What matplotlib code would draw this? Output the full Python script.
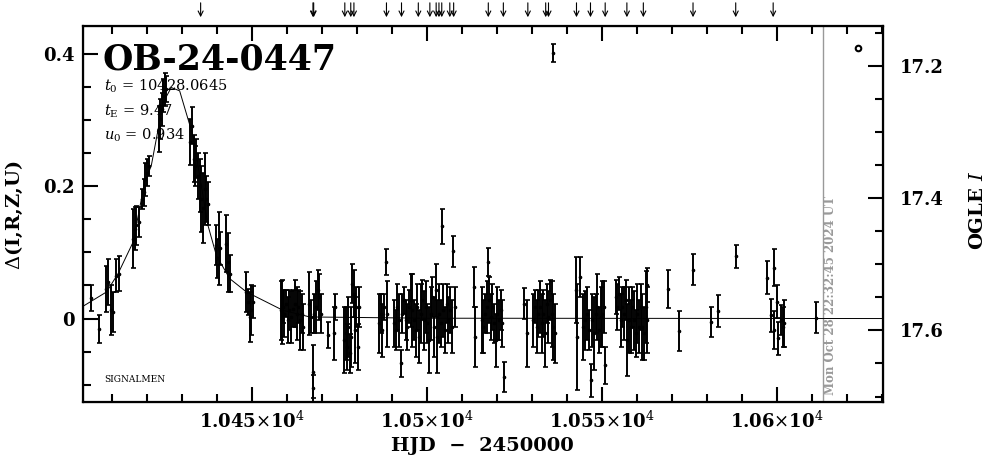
import numpy as np
import matplotlib
matplotlib.use('Agg')
import matplotlib.pyplot as plt
from matplotlib.ticker import MultipleLocator, FixedLocator

plt.rcParams['font.family'] = 'DejaVu Serif'
plt.rcParams['mathtext.fontset'] = 'dejavuserif'

# photometry: HJD-2450000, delta mag, error
hjd = [10404.2, 10406.4, 10408.3, 10408.9, 10409.9, 10410.4, 10411.3, 10412.1,
       10416.1, 10416.6, 10417.0, 10417.8, 10418.7, 10419.2, 10419.6, 10420.1, 10420.6,
       10423.5, 10423.9, 10424.3, 10424.7, 10425.1, 10425.6,
       10432.5, 10433.0, 10433.4, 10433.8, 10434.2, 10434.7, 10435.1, 10435.6, 10436.1,
       10436.6, 10437.0, 10437.5, 10439.7, 10440.1, 10440.6, 10441.0, 10442.7, 10443.2,
       10443.7, 10448.5, 10448.9, 10449.4, 10449.9, 10450.4, 10458.7,
       10458.4, 10458.9, 10459.3, 10459.8, 10460.3, 10460.7, 10461.2, 10461.7, 10462.4,
       10462.9, 10463.3, 10463.8, 10464.3, 10464.7,
       10466.5, 10466.9, 10467.4, 10467.5, 10467.9, 10468.4, 10468.8, 10469.3, 10469.7,
       10471.7, 10473.6, 10473.7,
       10476.5, 10476.9, 10477.2, 10477.6, 10478.0, 10478.4, 10478.7, 10479.1, 10479.5,
       10479.9, 10480.5, 10480.7,
       10486.5, 10486.9, 10487.3, 10487.8, 10488.5, 10488.7,
       10490.7, 10491.1, 10491.6, 10492.1, 10492.7, 10493.0, 10493.5, 10494.0, 10494.5,
       10494.9, 10495.4, 10495.9, 10496.4, 10496.9, 10497.3, 10497.8, 10498.3, 10498.7,
       10499.2, 10499.7, 10500.2, 10500.7, 10501.1, 10501.6, 10502.1, 10502.6, 10503.0,
       10503.5, 10504.0, 10504.3, 10504.7, 10505.2, 10505.7, 10506.2, 10506.7, 10507.1,
       10507.6, 10508.1,
       10513.6, 10513.7, 10515.7, 10516.2, 10516.7, 10517.1, 10517.6, 10517.8, 10518.3,
       10518.7, 10519.2, 10519.7, 10520.2, 10520.7, 10521.1, 10521.6, 10522.0,
       10527.9, 10528.6, 10530.5, 10530.9, 10531.4, 10531.9, 10532.4, 10532.9, 10533.3,
       10533.8, 10534.3, 10534.7, 10535.2, 10535.7, 10536.2, 10536.7, 10536.1,
       10542.7, 10543.0, 10543.8, 10544.7, 10545.2, 10545.9, 10546.4, 10546.9, 10547.3,
       10547.8, 10548.3, 10548.7, 10549.2, 10549.7, 10550.2, 10550.7, 10551.0,
       10554.0, 10554.5, 10554.9, 10555.4, 10555.9, 10556.4, 10556.9, 10557.3, 10557.8,
       10558.3, 10558.7, 10559.2, 10559.7, 10560.2, 10560.7, 10561.1, 10561.6, 10562.1,
       10562.6, 10562.9,
       10563.0, 10569.0, 10572.1, 10576.0, 10581.1, 10583.2, 10588.3, 10597.1, 10598.3,
       10599.1, 10599.3, 10600.2, 10600.3, 10601.3, 10601.7, 10602.2, 10611.2]
dmag = [0.031, -0.016, 0.045, 0.055, 0.013, 0.010, 0.065, 0.068,
        0.121, 0.136, 0.141, 0.146, 0.181, 0.191, 0.211, 0.221, 0.231,
        0.287, 0.302, 0.317, 0.337, 0.347, 0.347,
        0.267, 0.292, 0.242, 0.231, 0.242, 0.216, 0.201, 0.181, 0.168,
        0.196, 0.181, 0.174, 0.111, 0.091, 0.106, 0.106, 0.113, 0.085,
        0.068, 0.040, 0.025, 0.002, 0.013, 0.025, 0.010,
        0.0125, 0.0175, 0.0075, 0.0226, -0.0026, 0.0125, 0.0024, 0.015, 0.0226,
        0.0075, 0.0175, -0.0026, 0.0075, -0.0127,
        0.0226, 0.0024, -0.0806, -0.1057, 0.0075, 0.0175, 0.0427, 0.0326, 0.0075,
        -0.0252, -0.0226, 0.0175,
        -0.0327, -0.0226, -0.0428, -0.0127, -0.0528, -0.0277, 0.0528, 0.0377, -0.0176,
        0.0175, -0.0428, 0.0175,
        -0.0075, 0.0075, -0.0176, 0.0175, 0.0854, 0.0075,
        -0.0075, -0.0176, 0.0175, -0.0026, -0.0679, 0.0075, 0.0276, -0.0026, -0.0127,
        0.0175, 0.0276, 0.0125, -0.0026, -0.0176, 0.0175, -0.0277, 0.0075, 0.0276,
        -0.0026, 0.0175, -0.0075, -0.0327, 0.0075, 0.0326, -0.0127, 0.0427, -0.0277,
        0.0075, -0.0075, 0.1393, 0.0125, -0.0176, 0.0226, -0.0026, 0.0125, -0.0127,
        0.1016, 0.0175,
        0.0477, -0.0277, -0.0026, -0.0127, 0.0075, 0.0175, 0.0854, 0.0276, 0.0024,
        0.0175, -0.0075, -0.0327, 0.0075, -0.0026, 0.0125, -0.0075, -0.0881,
        0.0226, -0.0226, -0.0026, 0.0175, -0.0127, 0.0075, 0.0175, -0.0075, 0.0075,
        -0.0226, 0.0226, 0.0024, 0.0276, 0.0075, -0.0127, -0.0226, 0.402,
        0.0427, -0.0277, 0.0628, -0.0127, -0.0026, 0.0075, -0.0176, -0.0931, -0.0026,
        -0.0226, 0.0075, 0.0175, -0.0176, 0.0024, 0.0075, 0.0175, -0.0705,
        0.0326, 0.0175, 0.0377, -0.0026, 0.0175, 0.0075, 0.0276, -0.0327, -0.0026,
        -0.0127, 0.0175, -0.0026, -0.0226, 0.0075, -0.0127, 0.0175, -0.0127, -0.0226,
        0.0175, -0.0026,
        0.0503, 0.0452, -0.0187, 0.0740, -0.0051, 0.0110, 0.0940, 0.0619, 0.0050,
        0.0770, -0.0176, 0.0251, -0.0302, -0.0026, -0.0127, -0.0075, 0.0014]
err = [0.019, 0.021, 0.035, 0.035, 0.038, 0.030, 0.025, 0.026,
       0.045, 0.033, 0.030, 0.023, 0.015, 0.020, 0.025, 0.020, 0.015,
       0.035, 0.030, 0.025, 0.025, 0.025, 0.020,
       0.035, 0.028, 0.035, 0.030, 0.030, 0.035, 0.040, 0.050, 0.053,
       0.055, 0.035, 0.033, 0.030, 0.030, 0.055, 0.025, 0.043, 0.045,
       0.028, 0.030, 0.020, 0.038, 0.038, 0.024, 0.049,
       0.045, 0.025, 0.035, 0.020, 0.035, 0.030, 0.040, 0.028, 0.035,
       0.040, 0.025, 0.045, 0.030, 0.035,
       0.048, 0.025, 0.040, 0.020, 0.030, 0.040, 0.030, 0.035, 0.030,
       0.020, 0.040, 0.020,
       0.050, 0.040, 0.035, 0.045, 0.030, 0.045, 0.030, 0.035, 0.050,
       0.030, 0.035, 0.030,
       0.045, 0.030, 0.040, 0.020, 0.020, 0.050,
       0.035, 0.030, 0.035, 0.040, 0.020, 0.030, 0.020, 0.030, 0.035,
       0.025, 0.040, 0.055, 0.030, 0.040, 0.035, 0.040, 0.045, 0.030,
       0.045, 0.040, 0.030, 0.050, 0.040, 0.030, 0.045, 0.040, 0.055,
       0.045, 0.035, 0.026, 0.040, 0.035, 0.030, 0.035, 0.035, 0.040,
       0.024, 0.030,
       0.030, 0.045, 0.050, 0.040, 0.030, 0.040, 0.021, 0.035, 0.035,
       0.035, 0.030, 0.040, 0.040, 0.030, 0.030, 0.035, 0.023,
       0.023, 0.050, 0.040, 0.025, 0.040, 0.035, 0.040, 0.045, 0.035,
       0.050, 0.030, 0.040, 0.030, 0.050, 0.050, 0.045, 0.014,
       0.050, 0.080, 0.030, 0.050, 0.045, 0.040, 0.030, 0.025, 0.040,
       0.055, 0.030, 0.050, 0.035, 0.045, 0.050, 0.040, 0.028,
       0.025, 0.035, 0.025, 0.040, 0.030, 0.040, 0.030, 0.055, 0.050,
       0.040, 0.030, 0.045, 0.035, 0.045, 0.040, 0.035, 0.050, 0.040,
       0.055, 0.050,
       0.026, 0.029, 0.030, 0.023, 0.023, 0.024, 0.018, 0.025, 0.025,
       0.028, 0.029, 0.025, 0.025, 0.023, 0.030, 0.035, 0.023]

# model curve as drawn
model_t = [10401.8, 10408.5, 10411.8, 10416.1, 10419.4, 10421.3, 10424.7, 10427.0,
           10429.4, 10433.2, 10437.5, 10439.9, 10443.7, 10448.5, 10458.9, 10466.6,
           10500.0, 10630.3]
model_d = [0.0186, 0.0402, 0.0679, 0.1156, 0.2062, 0.2314, 0.327, 0.3496,
           0.3446, 0.2767, 0.1408, 0.0955, 0.0604, 0.0402, 0.0125, 0.0024,
           0.0005, 0.0]

# epochs marked with arrows on top
arrow_t = [10435.4, 10467.5, 10467.7, 10476.6, 10478.3, 10479.2, 10488.5, 10492.8,
           10497.6, 10500.9, 10502.7, 10503.5, 10504.3, 10506.6, 10507.7, 10517.6,
           10521.9, 10528.9, 10534.0, 10534.8, 10542.8, 10546.8, 10551.0, 10557.2,
           10561.9, 10576.1, 10588.3, 10599.0]

I_base = 17.582
now_t = 10613.3
xlim = (10401.7, 10630.3)
ylim = (-0.1263, 0.4427)

fig = plt.figure(figsize=(9.86, 4.59), dpi=100)
W, H = 986.0, 459.0
ax = fig.add_axes([82.7/W, 1-402/H, 800/W, 376/H])

ax.errorbar(hjd, dmag, yerr=err, fmt='o', ms=1.6, color='k', ecolor='k',
            elinewidth=1.4, capsize=1.8, capthick=1.2, zorder=3)
ax.plot(model_t, model_d, color='k', lw=0.7, zorder=2)
ax.axvline(now_t, color='#999999', lw=1.0, zorder=1)
ax.plot([10623.2], [0.4095], 'o', mfc='none', mec='k', ms=4, mew=1.5)

ax.set_xlim(*xlim)
ax.set_ylim(*ylim)
ax.xaxis.set_major_locator(FixedLocator([10450, 10500, 10550, 10600]))
ax.xaxis.set_minor_locator(MultipleLocator(10))
ax.set_xticklabels([r'1.045$\times$10$^4$', r'1.05$\times$10$^4$',
                    r'1.055$\times$10$^4$', r'1.06$\times$10$^4$'])
ax.yaxis.set_major_locator(FixedLocator([0, 0.2, 0.4]))
ax.yaxis.set_minor_locator(MultipleLocator(0.05))
ax.set_yticklabels(['0', '0.2', '0.4'])
ax.tick_params(which='both', direction='in', top=True, right=False, width=1.5)
ax.tick_params(which='major', length=11, labelsize=13, pad=6)
ax.tick_params(which='minor', length=5.5)
for lab in ax.get_xticklabels() + ax.get_yticklabels():
    lab.set_fontweight('bold')
for s in ax.spines.values():
    s.set_linewidth(1.6)

ax2 = ax.twinx()
ax2.set_ylim(I_base - ylim[0], I_base - ylim[1])
ax2.yaxis.set_major_locator(FixedLocator([17.2, 17.4, 17.6]))
ax2.yaxis.set_minor_locator(MultipleLocator(0.05))
ax2.set_yticklabels(['17.2', '17.4', '17.6'])
ax2.tick_params(which='both', direction='in', width=1.5)
ax2.tick_params(which='major', length=11, labelsize=13, pad=12)
ax2.tick_params(which='minor', length=5.5)
for lab in ax2.get_yticklabels():
    lab.set_fontweight('bold')

for t in arrow_t:
    ax.annotate('', xy=(t, 1.016), xytext=(t, 1.069),
                xycoords=('data', 'axes fraction'),
                arrowprops=dict(arrowstyle='->', lw=0.8, color='k', mutation_scale=9),
                annotation_clip=False)

fig.text(103/W, 1-70/H, 'OB-24-0447', fontsize=25, fontweight='bold',
         ha='left', va='baseline')
fig.text(104/W, 1-91/H, r'$t_0$ = 10428.0645', fontsize=10.5, ha='left', va='baseline')
fig.text(104/W, 1-116/H, r'$t_{\rm E}$ = 9.47', fontsize=10.5, ha='left', va='baseline')
fig.text(104/W, 1-140/H, r'$u_0$ = 0.934', fontsize=10.5, ha='left', va='baseline')
fig.text(104/W, 1-380/H, 'SIGNALMEN', fontsize=6.5, ha='left', va='center')
fig.text(831/W, 1-296/H, 'Mon Oct 28 22:32:45 2024 UT', fontsize=8.5, color='#999999',
         fontweight='bold', rotation=90, ha='center', va='center')

fig.text(14/W, 1-215/H, r'$\Delta$(I,R,Z,U)', fontsize=14, fontweight='bold',
         rotation=90, ha='center', va='center')
fig.text(482/W, 1-446/H, 'HJD  \u2212  2450000', fontsize=14, fontweight='bold',
         ha='center', va='center')
fig.text(978/W, 1-210/H, r'OGLE $I$', fontsize=14, fontweight='bold',
         rotation=90, ha='center', va='center')

fig.savefig('out.png', dpi=100)
